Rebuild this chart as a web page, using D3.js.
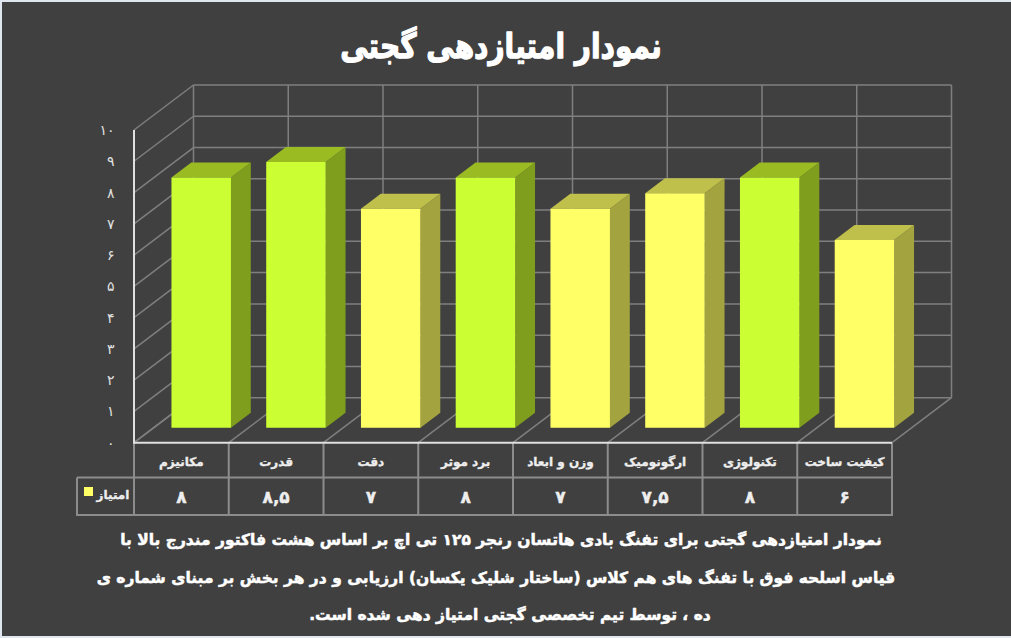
<!DOCTYPE html>
<html lang="fa"><head><meta charset="utf-8">
<script src="https://cdn.jsdelivr.net/npm/d3@7"></script>
<style>html,body{margin:0;padding:0;background:#404040;overflow:hidden}svg{display:block}text{font-family:"DejaVu Sans",sans-serif;direction:rtl}</style>
</head><body><svg id="c" width="1011" height="638"></svg>
<script>
const categories=["مکانیزم","قدرت","دقت","برد موثر","وزن و ابعاد","ارگونومیک","تکنولوژی","کیفیت ساخت"];
const scores=[8,8.5,7,8,7,7.5,8,6];
const scoreLabels=["۸","۸,۵","۷","۸","۷","۷,۵","۸","۶"];
const highlight=[true,true,false,true,false,false,true,false];
const tickValues=[0,1,2,3,4,5,6,7,8,9,10];
const tickLabels=["۰","۱","۲","۳","۴","۵","۶","۷","۸","۹","۱۰"];
const titleText="نمودار امتیازدهی گجتی";
const seriesName="امتیاز";
const captionLines=["نمودار امتیازدهی گجتی برای تفنگ بادی هاتسان رنجر ۱۲۵ تی اچ بر اساس هشت فاکتور مندرج بالا با","قیاس اسلحه فوق با تفنگ های هم کلاس (ساختار شلیک یکسان) ارزیابی و در هر بخش بر مبنای شماره ی","ده ، توسط تیم تخصصی گجتی امتیاز دهی شده است."];

const svg=d3.select("#c");
const x=d3.scaleBand().domain(d3.range(categories.length)).range([134,892]);
const y=d3.scaleLinear().domain([0,10]).range([442.7,130]);
const depth=d3.scaleLinear().domain([0,1]).range([0,1]);
const DX=59.5,DY=45;
const px=(xv,d)=>xv+DX*depth(d), py=(v,d)=>y(v)-DY*depth(d);
const grid="#7f7f7f",white="#e0e0e0",tbl="#8c8c8c";
const L=x.range()[0],R=x.range()[1];
const line=(x1,y1,x2,y2,c,w)=>svg.append("line").attr("x1",x1).attr("y1",y1).attr("x2",x2).attr("y2",y2).attr("stroke",c).attr("stroke-width",w);

svg.append("rect").attr("width",1011).attr("height",638).attr("fill","#dfe6ee");
svg.append("rect").attr("x",2).attr("y",2).attr("width",1009).attr("height",634).attr("fill","#404040");

// walls
tickValues.forEach(t=>{
  line(L,y(t),px(L,1),py(t,1),grid,1.5);
  line(px(L,1),py(t,1),px(R,1),py(t,1),grid,1.5);
});
d3.range(categories.length+1).forEach(i=>{
  const xv=L+i*x.step();
  line(px(xv,1),py(0,1),px(xv,1),py(10,1),grid,1.5);
  line(xv,y(0),px(xv,1),py(0,1),grid,1.5);
});

// bars
const shades={true:["#ccff33","#9abb22","#7f9e1e"],false:["#ffff66","#bfbf4c","#a3a33f"]};
const barW=59.5;
const poly=(pts,f)=>svg.append("polygon").attr("points",pts.map(p=>p.join(",")).join(" ")).attr("fill",f);
scores.forEach((v,i)=>{
  const a=x(i)+(x.step()-barW)/2, b=a+barW, d0=1/3,d1=2/3, s=shades[highlight[i]];
  poly([[px(b,d0),py(0,d0)],[px(b,d1),py(0,d1)],[px(b,d1),py(v,d1)],[px(b,d0),py(v,d0)]],s[2]);
  poly([[px(a,d0),py(v,d0)],[px(b,d0),py(v,d0)],[px(b,d1),py(v,d1)],[px(a,d1),py(v,d1)]],s[1]);
  poly([[px(a,d0),py(0,d0)],[px(b,d0),py(0,d0)],[px(b,d0),py(v,d0)],[px(a,d0),py(v,d0)]],s[0]);
});

// data table
const rowA=477.5,rowB=515,left=77;
line(left,rowA,R,rowA,tbl,2);
line(left-1,rowB,R+1,rowB,tbl,2);
line(left,rowA,left,rowB,tbl,2);
d3.range(categories.length+1).forEach(i=>{const xv=L+i*x.step();line(xv,y(0),xv,rowB,tbl,2);});

// front axis lines
line(L,y(10),L,y(0)+1,white,2);
line(L,y(0),R,y(0),white,2);

// y tick labels
svg.selectAll(".tick").data(tickValues).join("text").attr("class","tick")
  .attr("x",114.5).attr("y",t=>y(t)+5).attr("text-anchor","start").attr("fill","#e0e0e0")
  .attr("font-size",14).text((t,i)=>tickLabels[i]);

const heavy=(s,w,c)=>s.attr("stroke",c).attr("stroke-width",w).attr("stroke-linejoin","round").attr("paint-order","stroke");

heavy(svg.selectAll(".cat").data(categories).join("text").attr("class","cat")
  .attr("x",(d,i)=>x(i)+x.step()/2).attr("y",466).attr("text-anchor","middle")
  .attr("fill","#eeeeee").attr("font-weight","bold").attr("font-size",12).text(d=>d),.35,"#eeeeee");
heavy(svg.selectAll(".val").data(scoreLabels).join("text").attr("class","val")
  .attr("x",(d,i)=>x(i)+x.step()/2).attr("y",503).attr("text-anchor","middle")
  .attr("fill","#eeeeee").attr("font-weight","bold").attr("font-size",17).text(d=>d),.4,"#eeeeee");
svg.append("rect").attr("x",84).attr("y",487).attr("width",9).attr("height",9).attr("fill","#ffff66");
heavy(svg.append("text").attr("x",113).attr("y",499).attr("text-anchor","middle").attr("fill","#eeeeee").attr("font-weight","bold").attr("font-size",12).text(seriesName),.35,"#eeeeee");

// title & caption
heavy(svg.append("text").attr("transform","translate(501,58) scale(.85,1.05)").attr("text-anchor","middle").attr("fill","#fff").attr("font-weight","bold").attr("font-size",33).text(titleText),1.2,"#fff");
heavy(svg.selectAll(".cap").data(captionLines).join("text").attr("class","cap")
  .attr("x",(d,i)=>[501,496,510][i]).attr("y",(d,i)=>545+i*37.5).attr("text-anchor","middle").attr("fill","#fff").attr("font-weight","bold").attr("font-size",15.5).text(d=>d),.5,"#fff");
</script></body></html>
